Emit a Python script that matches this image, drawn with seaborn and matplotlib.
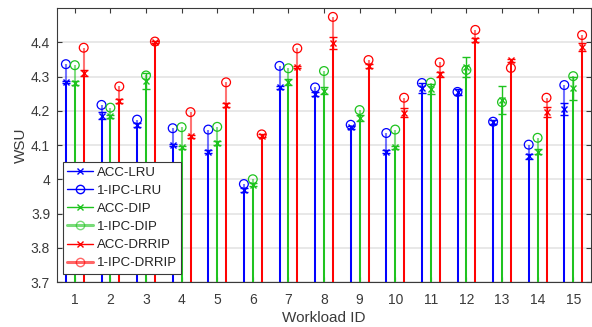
import numpy as np
import matplotlib
matplotlib.use("Agg")
import matplotlib.pyplot as plt
import seaborn as sns
from matplotlib.lines import Line2D
from matplotlib.legend_handler import HandlerLine2D

# Workloads on the x axis
workloads = list(range(1, 16))

# LRU
acc_lru = [4.284, 4.186, 4.159, 4.100, 4.081, 3.968, 4.268, 4.248, 4.152, 4.081, 4.266, 4.255, 4.168, 4.067, 4.206]
acc_lru_err = [0.004, 0.010, 0.005, 0.004, 0.004, 0.006, 0.004, 0.006, 0.004, 0.004, 0.015, 0.008, 0.006, 0.008, 0.018]
ipc_lru = [4.336, 4.217, 4.174, 4.149, 4.145, 3.986, 4.331, 4.268, 4.159, 4.135, 4.281, 4.255, 4.168, 4.101, 4.275]

# DIP
acc_dip = [4.281, 4.184, 4.287, 4.093, 4.106, 3.984, 4.284, 4.258, 4.179, 4.093, 4.263, 4.327, 4.231, 4.081, 4.265]
acc_dip_err = [0.006, 0.005, 0.024, 0.004, 0.005, 0.004, 0.008, 0.010, 0.010, 0.004, 0.014, 0.029, 0.041, 0.006, 0.033]
ipc_dip = [4.333, 4.209, 4.303, 4.152, 4.153, 4.000, 4.324, 4.316, 4.202, 4.145, 4.282, 4.319, 4.225, 4.121, 4.301]

# DRRIP
acc_drrip = [4.310, 4.228, 4.400, 4.125, 4.217, 4.127, 4.328, 4.397, 4.331, 4.194, 4.306, 4.406, 4.347, 4.196, 4.385]
acc_drrip_err = [0.009, 0.005, 0.003, 0.005, 0.006, 0.004, 0.004, 0.017, 0.006, 0.013, 0.008, 0.005, 0.005, 0.015, 0.012]
ipc_drrip = [4.384, 4.271, 4.402, 4.196, 4.283, 4.131, 4.382, 4.474, 4.348, 4.238, 4.341, 4.436, 4.325, 4.238, 4.421]

y_ticks = [3.7, 3.8, 3.9, 4.0, 4.1, 4.2, 4.3, 4.4]
y_tick_labels = ["3.7", "3.8", "3.9", "4", "4.1", "4.2", "4.3", "4.4"]
baseline = 3.7

sns.set_theme(style="ticks")
plt.rcParams["font.family"] = ["Liberation Sans", "DejaVu Sans"]

BLUE = "#0000ff"
GREEN = "#1ec31e"
RED = "#ff0000"

groups = [
    ("LRU", acc_lru, acc_lru_err, ipc_lru, BLUE, -0.25),
    ("DIP", acc_dip, acc_dip_err, ipc_dip, GREEN, 0.0),
    ("DRRIP", acc_drrip, acc_drrip_err, ipc_drrip, RED, 0.25),
]

fig = plt.figure(figsize=(5.92, 3.27), dpi=100)
ax = fig.add_axes([57 / 592, 1 - 282 / 327, 534 / 592, 274 / 327])

ax.grid(axis="y", color="#e4e4e4", linewidth=1.2, zorder=0)
ax.set_axisbelow(True)

x = np.array(workloads, dtype=float)
for name, acc, err, ipc, color, off in groups:
    xs = x + off
    # 1-IPC stems (lighter) and markers
    ax.vlines(xs, baseline, ipc, color=color, alpha=0.55, linewidth=1.5, zorder=2)
    sns.scatterplot(x=xs, y=ipc, ax=ax, marker="o", s=40, facecolor="none",
                    edgecolor=color, linewidth=0.9, zorder=4, legend=False)
    # ACC stems with error bars
    ax.vlines(xs, baseline, acc, color=color, linewidth=1.4, zorder=3)
    ax.errorbar(xs, acc, yerr=err, fmt="x", color=color, ms=4.5, mew=1.0,
                elinewidth=1.0, capsize=3, capthick=1.0, zorder=5)

ax.set_xlim(0.5, 15.5)
ax.set_ylim(3.7, 4.5)
ax.set_xticks(workloads)
ax.set_xticklabels([str(w) for w in workloads])
ax.set_yticks(y_ticks)
ax.set_yticklabels(y_tick_labels)

ax.tick_params(direction="in", length=3.5, width=0.8, colors="#3a3a3a",
               labelsize=10, top=True, right=True, labeltop=False, labelright=False)
ax.tick_params(axis="x", pad=8)
ax.tick_params(axis="y", pad=5)
for sp in ax.spines.values():
    sp.set_visible(True)
    sp.set_color("#3a3a3a")
    sp.set_linewidth(0.8)

ax.set_xlabel("Workload ID", fontsize=11, color="#3a3a3a", labelpad=3)
ax.set_ylabel("WSU", fontsize=11, color="#3a3a3a", labelpad=2)


class MarkerRightHandler(HandlerLine2D):
    def get_xdata(self, legend, xdescent, ydescent, width, height, fontsize):
        xdata = np.array([-xdescent, -xdescent + width])
        xmarker = np.array([-xdescent + 0.8 * width])
        return xdata, xmarker


handles = [
    Line2D([], [], color=BLUE, marker="x", lw=1.0, ms=5, mew=1.0),
    Line2D([], [], color=BLUE, marker="o", mfc="none", lw=1.0, ms=6, mew=1.0),
    Line2D([], [], color=GREEN, marker="x", lw=1.0, ms=5, mew=1.0),
    Line2D([], [], color=GREEN, marker="o", mfc="none", lw=2.2, alpha=0.6, ms=6, mew=1.0),
    Line2D([], [], color=RED, marker="x", lw=1.0, ms=5, mew=1.0),
    Line2D([], [], color=RED, marker="o", mfc="none", lw=2.2, alpha=0.6, ms=6, mew=1.0),
]
labels = ["ACC-LRU", "1-IPC-LRU", "ACC-DIP", "1-IPC-DIP", "ACC-DRRIP", "1-IPC-DRRIP"]
leg = ax.legend(handles, labels, loc="lower left", bbox_to_anchor=(0.011, 0.029),
                borderaxespad=0, frameon=True, fancybox=False, fontsize=9.5,
                handlelength=1.9, handletextpad=0.3, labelspacing=0.45,
                borderpad=0.35, handler_map={Line2D: MarkerRightHandler(numpoints=1)})
leg.get_frame().set_edgecolor("#3a3a3a")
leg.get_frame().set_linewidth(0.8)
leg.get_frame().set_alpha(1.0)
leg.set_zorder(10)
for t in leg.get_texts():
    t.set_color("#222222")

fig.savefig("out.png", dpi=100)
